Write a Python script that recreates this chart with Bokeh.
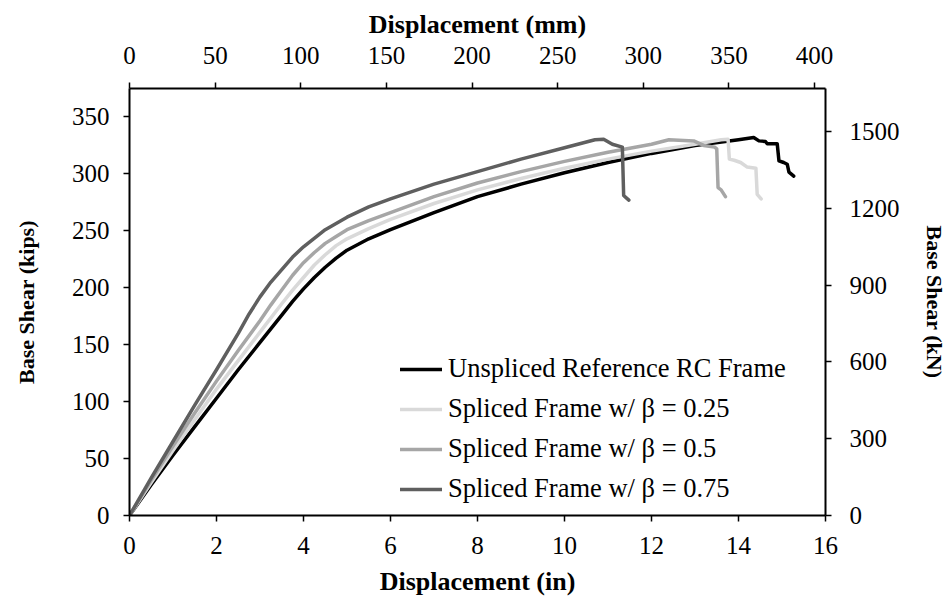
from bokeh.plotting import figure
from bokeh.models import Range1d, LinearAxis, FixedTicker, Legend
from bokeh.embed import file_html
from bokeh.resources import INLINE

# ---- data ----
series_names = ["Unspliced Reference RC Frame",
                "Spliced Frame w/ \u03b2 = 0.25",
                "Spliced Frame w/ \u03b2 = 0.5",
                "Spliced Frame w/ \u03b2 = 0.75"]

unspliced_x = [0, 0.5, 1, 1.5, 2, 2.5, 3, 3.5, 3.75, 4, 4.25, 4.5, 4.75, 5, 5.5, 6, 7, 8, 9, 10, 11, 12, 13, 14,
               14.35, 14.47, 14.62, 14.66, 14.89, 14.93, 15.04, 15.12, 15.16, 15.27]
unspliced_y = [0, 27, 53, 78, 103, 128, 152, 176, 188, 199, 209, 218, 226, 233, 243, 251, 266, 280, 291, 301, 310, 318, 325, 330,
               332, 329, 328.5, 326.5, 326.5, 311.5, 310, 308.5, 301.5, 298]

b025_x = [0, 0.5, 1, 1.5, 2, 2.5, 3, 3.5, 3.75, 4, 4.25, 4.5, 4.75, 5, 5.5, 6, 7, 8, 9, 10, 11, 12, 13, 13.6,
          13.76, 13.79, 13.9, 14.05, 14.2, 14.4, 14.43, 14.52]
b025_y = [0, 29, 57, 84, 111, 136, 161, 186, 198, 209, 220, 229, 237, 243, 252, 260, 274, 286, 296, 305, 313, 320, 326, 330,
          330.5, 313, 312, 310, 306, 305, 282, 278]

b050_x = [0, 0.5, 1, 1.5, 2, 2.5, 3, 3.25, 3.5, 3.75, 4, 4.25, 4.5, 4.75, 5, 5.5, 6, 7, 8, 9, 10, 11, 12, 12.4,
          12.97, 13.2, 13.45, 13.5, 13.53, 13.6, 13.7]
b050_y = [0, 31, 61, 90, 118, 145, 171, 185, 198, 211, 222, 231, 239, 245, 251, 259, 266, 280, 292, 302, 311, 319, 326, 330,
          329, 325, 323.5, 322, 288, 286, 280]

b075_x = [0, 0.5, 1, 1.5, 2, 2.5, 2.75, 3, 3.25, 3.5, 3.75, 4, 4.5, 5, 5.5, 6, 7, 8, 9, 10, 10.7,
          10.9, 11.1, 11.33, 11.36, 11.42, 11.48]
b075_y = [0, 33, 65, 97, 128, 160, 177, 192, 205, 216, 227, 236, 251, 262, 271, 278, 291, 302, 313, 323, 330,
          330.5, 326, 323.5, 281, 279, 277]

in_ticks = [0, 2, 4, 6, 8, 10, 12, 14, 16]
mm_ticks = [0, 50, 100, 150, 200, 250, 300, 350, 400]
kips_ticks = [0, 50, 100, 150, 200, 250, 300, 350]
kn_ticks = [0, 300, 600, 900, 1200, 1500]

X_MAX_IN = 16
Y_MAX_KIPS = 375
MM_PER_IN = 25.4
KN_PER_KIP = 4.448222

colors = ["#000000", "#d9d9d9", "#a6a6a6", "#5f5f5f"]

FONT = "Liberation Serif"

p = figure(width=949, height=598, output_backend="svg", toolbar_location=None,
           x_range=Range1d(0, X_MAX_IN), y_range=Range1d(0, Y_MAX_KIPS),
           min_border_left=129, min_border_right=124, min_border_top=88, min_border_bottom=82)
p.extra_x_ranges = {"mm": Range1d(0, X_MAX_IN * MM_PER_IN)}
p.extra_y_ranges = {"kn": Range1d(0, Y_MAX_KIPS * KN_PER_KIP)}
p.outline_line_color = None
p.xgrid.visible = False
p.ygrid.visible = False
p.background_fill_color = "white"
p.border_fill_color = "white"


def style(ax, tick_size="25px", title_size="26px", label_standoff=14, title_standoff=14):
    ax.axis_line_color = "black"
    ax.axis_line_width = 2
    ax.major_tick_line_color = "black"
    ax.major_tick_line_width = 1.5
    ax.major_tick_out = 6
    ax.major_tick_in = 0
    ax.minor_tick_line_color = None
    ax.major_label_text_font = FONT
    ax.major_label_text_font_size = tick_size
    ax.major_label_text_color = "black"
    ax.major_label_standoff = label_standoff
    ax.axis_label_text_font = FONT
    ax.axis_label_text_font_size = title_size
    ax.axis_label_text_font_style = "bold"
    ax.axis_label_text_color = "black"
    ax.axis_label_standoff = title_standoff


xb = p.xaxis[0]
xb.ticker = FixedTicker(ticks=in_ticks)
xb.axis_label = "Displacement (in)"
style(xb, label_standoff=15, title_standoff=10)

yl = p.yaxis[0]
yl.ticker = FixedTicker(ticks=kips_ticks)
yl.axis_label = "Base Shear (kips)"
style(yl, title_size="22px", label_standoff=14, title_standoff=30)

xt = LinearAxis(x_range_name="mm", ticker=FixedTicker(ticks=mm_ticks), axis_label="Displacement (mm)")
style(xt, label_standoff=19, title_standoff=5)
p.add_layout(xt, "above")

yr = LinearAxis(y_range_name="kn", ticker=FixedTicker(ticks=kn_ticks), axis_label="Base Shear (kN)")
style(yr, title_size="22px", label_standoff=18, title_standoff=19)
p.add_layout(yr, "right")

xs = [unspliced_x, b025_x, b050_x, b075_x]
ys = [unspliced_y, b025_y, b050_y, b075_y]
renderers = []
for x, y, c in zip(xs, ys, colors):
    r = p.line(x, y, line_color=c, line_width=3.5, line_join="round", line_cap="round")
    renderers.append(r)

legend = Legend(items=[(n, [r]) for n, r in zip(series_names, renderers)],
                location=(271, 11))
legend.label_text_font = FONT
legend.label_text_font_size = "26.5px"
legend.label_text_color = "black"
legend.glyph_width = 42
legend.glyph_height = 30
legend.label_height = 30
legend.label_standoff = 6
legend.spacing = 9
legend.padding = 0
legend.margin = 0
legend.border_line_color = None
legend.background_fill_alpha = 0
p.add_layout(legend, "center")

open("out.html", "w").write(file_html(p, INLINE))
